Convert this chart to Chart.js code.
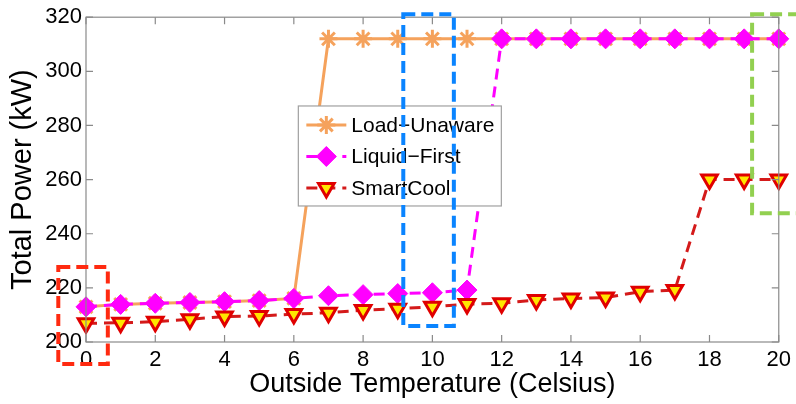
<!DOCTYPE html>
<html>
<head>
<meta charset="utf-8">
<script src="https://cdn.jsdelivr.net/npm/chart.js@4"></script>
<style>
html,body{margin:0;padding:0;background:#fff;}
#wrap{width:796px;height:404px;position:relative;}
</style>
</head>
<body>
<div id="wrap"><canvas id="c" width="796" height="404"></canvas></div>
<script>
const temps = [0,1,2,3,4,5,6,7,8,9,10,11,12,13,14,15,16,17,18,19,20];
const loadUnaware = [213,213.9,214.3,214.6,214.9,215.3,216.1,312,312,312,312,312,312,312,312,312,312,312,312,312,312];
const liquidFirst = [213,213.9,214.3,214.6,214.9,215.3,216.1,217.1,217.5,217.9,218.2,219.2,312,312,312,312,312,312,312,312,312];
const smartCool = [206.9,207.1,207.5,208.4,209.4,209.6,210.3,210.8,211.8,212.3,213.0,214.0,214.3,215.5,216.1,216.4,218.6,219.2,260,260,260];
const seriesNames = ['Load\u2212Unaware','Liquid\u2212First','SmartCool'];
const xTicks = [0,2,4,6,8,10,12,14,16,18,20];
const yTicks = [200,220,240,260,280,300,320];
const xTitle = 'Outside Temperature (Celsius)';
const yTitle = 'Total Power (kW)';
// highlight boxes in data units: [xMin, xMax, yMin, yMax]
const boxRed = [-0.8, 0.63, 191.9, 227.7];
const boxBlue = [9.16, 10.62, 205.9, 321.1];
const boxGreen = [19.23, 20.8, 247.6, 321.1];

const FONT = '"Liberation Sans", Arial, sans-serif';
const cOrange = '#F5A25C', cMag = '#FF00FF', cRed = '#D41A1A';

const toXY = arr => arr.map((v,i)=>({x:temps[i], y:v}));

const framePlugin = {
  id:'frame',
  afterDatasetsDraw(chart){
    const ctx = chart.ctx, a = chart.chartArea;
    const xs = chart.scales.x, ys = chart.scales.y;
    ctx.save();
    ctx.strokeStyle = '#8a8a8a'; ctx.lineWidth = 1.2; ctx.setLineDash([]);
    ctx.strokeRect(a.left, a.top, a.right-a.left, a.bottom-a.top);
    const tl = 7;
    ctx.beginPath();
    xTicks.forEach(t=>{const p = xs.getPixelForValue(t);
      ctx.moveTo(p,a.bottom); ctx.lineTo(p,a.bottom-tl);
      ctx.moveTo(p,a.top); ctx.lineTo(p,a.top+tl);});
    yTicks.forEach(t=>{const p = ys.getPixelForValue(t);
      ctx.moveTo(a.left,p); ctx.lineTo(a.left+tl,p);
      ctx.moveTo(a.right,p); ctx.lineTo(a.right-tl,p);});
    ctx.stroke();

    // legend
    const lx = xs.getPixelForValue(6.13), ly = ys.getPixelForValue(287.2);
    const lw = 203, lh = 100;
    ctx.fillStyle = '#fff'; ctx.fillRect(lx, ly, lw, lh);
    ctx.strokeStyle = '#a0a0a0'; ctx.lineWidth = 1.2; ctx.strokeRect(lx, ly, lw, lh);
    chart.data.datasets.forEach((ds,i)=>{
      const cy = ly + 19 + i*31.5;
      const x0 = lx + 8, x1 = lx + 48, xm = (x0+x1)/2;
      ctx.save();
      ctx.strokeStyle = ds.borderColor; ctx.lineWidth = ds.borderWidth;
      ctx.setLineDash(ds.borderDash || []);
      ctx.beginPath(); ctx.moveTo(x0,cy); ctx.lineTo(x1,cy); ctx.stroke();
      ctx.setLineDash([]);
      ctx.fillStyle = ds.pointBackgroundColor; ctx.strokeStyle = ds.pointBorderColor;
      ctx.lineWidth = ds.pointBorderWidth;
      Chart.helpers.drawPoint(ctx, {pointStyle: ds.pointStyle, rotation: ds.pointRotation||0, radius: ds.pointRadius, borderWidth: ds.pointBorderWidth}, xm, cy);
      ctx.restore();
      ctx.fillStyle = '#000'; ctx.font = '21px ' + FONT; ctx.textBaseline = 'middle'; ctx.textAlign='left';
      ctx.fillText(ds.label, lx + 53, cy + 1);
    });

    // highlight boxes
    const drawBox = (b, col) => {
      const x0 = xs.getPixelForValue(b[0]), x1 = xs.getPixelForValue(b[1]);
      const y0 = ys.getPixelForValue(b[3]), y1 = ys.getPixelForValue(b[2]);
      ctx.strokeStyle = col; ctx.lineWidth = 4; ctx.setLineDash([12,6]);
      ctx.strokeRect(x0, y0, x1-x0, y1-y0);
    };
    drawBox(boxRed, '#FF2A10');
    drawBox(boxBlue, '#0A84FF');
    drawBox(boxGreen, '#92D050');
    ctx.restore();
  }
};

new Chart(document.getElementById('c'), {
  type:'line',
  data:{
    datasets:[
      {label:seriesNames[0], data:toXY(loadUnaware), borderColor:cOrange, backgroundColor:cOrange,
       borderWidth:3, pointStyle:'star', pointRadius:9, pointBorderWidth:3,
       pointBackgroundColor:cOrange, pointBorderColor:cOrange, order:3, clip:false},
      {label:seriesNames[1], data:toXY(liquidFirst), borderColor:cMag, backgroundColor:cMag,
       borderWidth:3, borderDash:[11,7], pointStyle:'rectRot', pointRadius:10, pointBorderWidth:1,
       pointBackgroundColor:cMag, pointBorderColor:cMag, order:2, clip:false},
      {label:seriesNames[2], data:toXY(smartCool), borderColor:cRed, backgroundColor:'#FFE600',
       borderWidth:3, borderDash:[11,7], pointStyle:'triangle', pointRotation:180, pointRadius:9, pointBorderWidth:3,
       pointBackgroundColor:'#FFE600', pointBorderColor:'#E00000', order:1, clip:false}
    ]
  },
  options:{
    responsive:false, animation:false,
    layout:{padding:{left:0, right:11, top:17, bottom:0}},
    plugins:{legend:{display:false}, tooltip:{enabled:false}},
    elements:{line:{tension:0}},
    scales:{
      x:{type:'linear', min:0, max:20,
         afterBuildTicks(s){ s.ticks = xTicks.map(v=>({value:v})); },
         afterFit(s){ s.height = 62; },
         grid:{display:false, drawTicks:false}, border:{display:false},
         ticks:{color:'#000', font:{family:FONT, size:22}, padding:5, maxRotation:0, autoSkip:false},
         title:{display:true, text:xTitle, color:'#000', font:{family:FONT, size:27}, padding:{top:0,bottom:3}}},
      y:{type:'linear', min:200, max:320,
         afterBuildTicks(s){ s.ticks = yTicks.map(v=>({value:v})); },
         afterFit(s){ s.width = 86; },
         grid:{display:false, drawTicks:false}, border:{display:false},
         ticks:{color:'#000', font:{family:FONT, size:22}, padding:4, autoSkip:false},
         title:{display:true, text:yTitle, color:'#000', font:{family:FONT, size:29}, padding:{top:6,bottom:0}}}
    }
  },
  plugins:[framePlugin]
});
</script>
</body>
</html>
